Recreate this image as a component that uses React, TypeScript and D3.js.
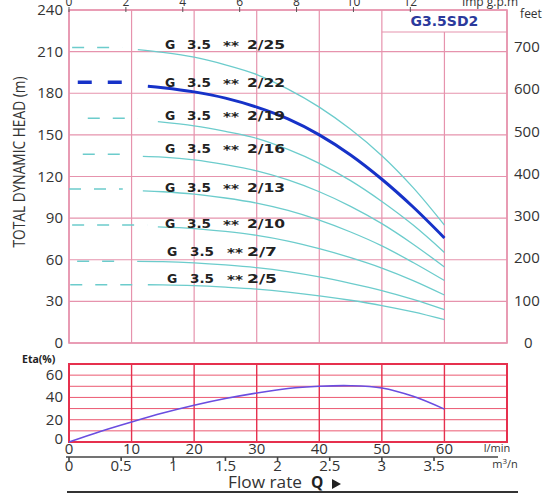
import React from "react";
import * as d3 from "d3";

// ---------- data ----------
const pumpModels = ["2/25", "2/22", "2/19", "2/16", "2/13", "2/10", "2/7", "2/5"];
const highlighted = "2/22";
const shutoffHead = [213, 188, 162, 136, 111, 85, 59, 42];
const dashFromFlow = [0.5, 1.4, 3, 2.2, 0, 0.5, 1.3, 0.2];
const dashToFlow = [8.5, 9.5, 11, 9.3, 8.6, 12.5, 8.5, 11.7];
const curveFlows = [
  [11, 15, 20, 25, 30, 35, 40, 45, 50, 55, 60],
  [12.6, 15, 20, 25, 30, 35, 40, 45, 50, 55, 60],
  [14.2, 20, 25, 30, 35, 40, 45, 50, 55, 60],
  [11.8, 15, 20, 25, 30, 35, 40, 45, 50, 55, 60],
  [11.8, 15, 20, 25, 30, 35, 40, 45, 50, 55, 60],
  [14.2, 20, 25, 30, 35, 40, 45, 50, 55, 60],
  [10.9, 15, 20, 25, 30, 35, 40, 45, 50, 55, 60],
  [12.6, 15, 20, 25, 30, 35, 40, 45, 50, 55, 60],
];
const curveHeads = [
  [211.5, 209.5, 206, 200.5, 193.5, 183, 170, 154, 135, 112, 85],
  [185, 184, 181, 176.5, 170, 161.5, 150, 135.5, 118, 98, 75.7],
  [159.5, 156.5, 152.5, 147.5, 139.5, 129.5, 117, 102, 85, 65.3],
  [134.5, 134, 132, 128.5, 124, 117.5, 109, 98.5, 86, 71.2, 54.8],
  [109.6, 109, 107.3, 104.5, 100.8, 95.5, 88.5, 80, 70, 58, 45],
  [83.7, 82.5, 80.4, 77.6, 73.5, 68, 61.5, 54, 45, 34.6],
  [58.9, 58.7, 57.8, 56.3, 54.3, 51.4, 47.6, 43, 37.8, 31.4, 24],
  [42, 41.9, 41.3, 40.2, 38.8, 36.7, 34, 30.8, 27, 22.4, 16.8],
];
const etaFlows = [0, 5, 10, 15, 20, 25, 30, 35, 40, 45, 50, 55, 60];
const etaValues = [0, 9.5, 18, 26, 33, 39, 44, 48, 50, 50.5, 48.5, 41, 29.5];

const headTicks = [0, 30, 60, 90, 120, 150, 180, 210, 240];
const feetTicks = [0, 100, 200, 300, 400, 500, 600, 700];
const impTicks = [0, 2, 4, 6, 8, 10, 12];
const lminTicks = [0, 10, 20, 30, 40, 50, 60];
const m3hTicks = [0, 0.5, 1, 1.5, 2, 2.5, 3, 3.5];
const etaTicks = [0, 20, 40, 60];
const gridFlows = [0, 10, 20, 30, 40, 50, 60, 70];
const etaGrid = [0, 10, 20, 30, 40, 50, 60, 70];
const modelTitle = "G3.5SD2";

// ---------- layout ----------
const W = 548, H = 493;
const labelDy = [-3, 0, -3, -6, -2, -2, -10, -7];
const FONT = "'Open Sans', 'DejaVu Sans', sans-serif";
const PINK = "#e693ad";
const RED = "#e6304e";
const CYAN = "#6ccccc";
const BLUE = "#1632c8";

export default function App() {
  const x = d3.scaleLinear().domain([0, 70]).range([69, 507]);
  const yH = d3.scaleLinear().domain([0, 240]).range([343, 10]);
  const yE = d3.scaleLinear().domain([0, 70]).range([442, 364]);
  const ftToY = (ft: number) => yH(ft * 0.3048);
  const impToX = (g: number) => x(g * 4.546);
  const m3hToX = (q: number) => x(q * 16.667);

  const line = d3
    .line<[number, number]>()
    .x((d) => x(d[0]))
    .y((d) => yH(d[1]))
    .curve(d3.curveCatmullRom.alpha(0.5));
  const etaLine = d3
    .line<[number, number]>()
    .x((d) => x(d[0]))
    .y((d) => yE(d[1]))
    .curve(d3.curveCatmullRom.alpha(0.5));

  const boxX0 = x(50), boxX1 = x(70), boxY1 = 32;

  return (
    <svg
      width={W}
      height={H}
      style={{ position: "absolute", left: 0, top: 0, background: "#fff" }}
      fontFamily={FONT}
    >
      {/* top chart grid */}
      {headTicks.map((h) => (
        <line key={"hg" + h} x1={x(0)} x2={x(70)} y1={yH(h)} y2={yH(h)} stroke={PINK} strokeWidth={1.2} />
      ))}
      {gridFlows.map((f) => (
        <line
          key={"vg" + f}
          x1={x(f)}
          x2={x(f)}
          y1={f === 60 ? boxY1 : yH(240)}
          y2={yH(0)}
          stroke={PINK}
          strokeWidth={1.2}
        />
      ))}
      <rect x={x(0)} y={yH(240)} width={x(70) - x(0)} height={yH(0) - yH(240)} fill="none" stroke={PINK} strokeWidth={1.6} />
      {/* model box */}
      <line x1={boxX0} x2={boxX1} y1={boxY1} y2={boxY1} stroke={PINK} strokeWidth={1.2} />
      <text x={(boxX0 + boxX1) / 2} y={26} textAnchor="middle" fontSize={14} fontWeight="bold" fill="#2b3a9c" fontFamily="'DejaVu Sans', sans-serif">
        {modelTitle}
      </text>

      {/* top axis ticks (imp gpm) */}
      {impTicks.map((g) => (
        <g key={"imp" + g}>
          <line x1={impToX(g)} x2={impToX(g)} y1={7} y2={12} stroke="#555" strokeWidth={1} />
          <text x={impToX(g)} y={6} textAnchor="middle" fontSize={12} fill="#333">
            {g}
          </text>
        </g>
      ))}
      <text x={490} y={6} textAnchor="middle" fontSize={12} fill="#333">Imp g.p.m</text>
      <text x={531} y={18} textAnchor="middle" fontSize={12} fill="#333">feet</text>

      {/* left axis */}
      {headTicks.map((h) => (
        <text key={"hl" + h} x={63} y={yH(h) + 5} textAnchor="end" fontSize={15} fill="#333">
          {h}
        </text>
      ))}
      <text
        transform={`translate(25,162) rotate(-90)`}
        textAnchor="middle"
        fontSize={16}
        fill="#333"
        textLength={171}
        lengthAdjust="spacingAndGlyphs"
      >
        TOTAL DYNAMIC HEAD (m)
      </text>
      {/* right axis feet */}
      {feetTicks.map((f) => (
        <text key={"ft" + f} x={f === 0 ? 524 : 514} y={ftToY(f) + 5} textAnchor="start" fontSize={15} fill="#333">
          {f}
        </text>
      ))}

      {/* pump curves */}
      {pumpModels.map((m, i) => {
        const hl = m === highlighted;
        const pts: [number, number][] = curveFlows[i].map((f, j) => [f, curveHeads[i][j]]);
        return (
          <g key={"c" + m}>
            <line
              x1={x(dashFromFlow[i])}
              x2={x(dashToFlow[i])}
              y1={yH(shutoffHead[i])}
              y2={yH(shutoffHead[i])}
              stroke={hl ? BLUE : CYAN}
              strokeWidth={hl ? 3.5 : 1.5}
              strokeDasharray={hl ? "14 16" : "12 13"}
            />
            <path d={line(pts) || ""} fill="none" stroke={hl ? BLUE : CYAN} strokeWidth={hl ? 3 : 1.3} />
          </g>
        );
      })}
      {/* curve labels */}
      {pumpModels.map((m, i) => {
        const yy = yH(shutoffHead[i]) + labelDy[i] + 5;
        const short = m.length === 3;
        return (
          <g key={"lab" + m} fontFamily="'DejaVu Sans', sans-serif" fontWeight="bold" fontSize={12.5} fill="#222">
            <text x={short ? 167 : 165} y={yy}>G</text>
            <text x={short ? 190 : 187} y={yy} textLength={24} lengthAdjust="spacingAndGlyphs">3.5</text>
            <text x={short ? 227 : 223} y={yy + 1} textLength={16} lengthAdjust="spacingAndGlyphs">**</text>
            <text x={247} y={yy} textLength={short ? 30 : 38} lengthAdjust="spacingAndGlyphs">{m}</text>
          </g>
        );
      })}

      {/* efficiency chart */}
      {etaGrid.map((e) => (
        <line key={"eg" + e} x1={x(0)} x2={x(70)} y1={yE(e)} y2={yE(e)} stroke={RED} strokeWidth={1} strokeOpacity={0.8} />
      ))}
      {gridFlows.map((f) => (
        <line key={"evg" + f} x1={x(f)} x2={x(f)} y1={yE(70)} y2={yE(0)} stroke={RED} strokeWidth={1.4} />
      ))}
      <rect x={x(0)} y={yE(70)} width={x(70) - x(0)} height={yE(0) - yE(70)} fill="none" stroke={RED} strokeWidth={2} />
      <path
        d={etaLine(etaFlows.map((f, j) => [f, etaValues[j]] as [number, number])) || ""}
        fill="none"
        stroke="#6a4de0"
        strokeWidth={1.6}
      />
      <text x={22} y={363} fontSize={10.5} fontWeight="bold" fill="#222">Eta(%)</text>
      {etaTicks.map((e) => (
        <text key={"el" + e} x={63} y={yE(e) + 5 - (e === 0 ? 3 : 0)} textAnchor="end" fontSize={15} fill="#333">
          {e}
        </text>
      ))}

      {/* bottom axes */}
      {lminTicks.map((f) => (
        <text key={"lm" + f} x={x(f)} y={454} textAnchor="middle" fontSize={15} fill="#333">
          {f}
        </text>
      ))}
      <text x={497} y={452} textAnchor="middle" fontSize={11} fill="#333">l/min</text>
      <line x1={66} x2={498} y1={457} y2={457} stroke="#444" strokeWidth={1.6} />
      {m3hTicks.map((q) => (
        <g key={"m3" + q}>
          <line x1={m3hToX(q)} x2={m3hToX(q)} y1={457} y2={461} stroke="#444" strokeWidth={1.6} />
          <text x={m3hToX(q)} y={471} textAnchor="middle" fontSize={15} fill="#333">
            {q}
          </text>
        </g>
      ))}
      <text x={505} y={468} textAnchor="middle" fontSize={11} fill="#333">
        m<tspan dy={-4} fontSize={8}>3</tspan>
        <tspan dy={4}>/n</tspan>
      </text>
      <text x={228} y={488} fontSize={15.5} fill="#333" textLength={74} lengthAdjust="spacingAndGlyphs">
        Flow rate
      </text>
      <text x={311} y={488} fontSize={15.5} fontWeight="bold" fill="#222">Q</text>
      <path d="M 332 479 L 341 484 L 332 489 Z" fill="#222" />
      <line x1={67} x2={518} y1={492} y2={492} stroke="#333" strokeWidth={2} />
    </svg>
  );
}
